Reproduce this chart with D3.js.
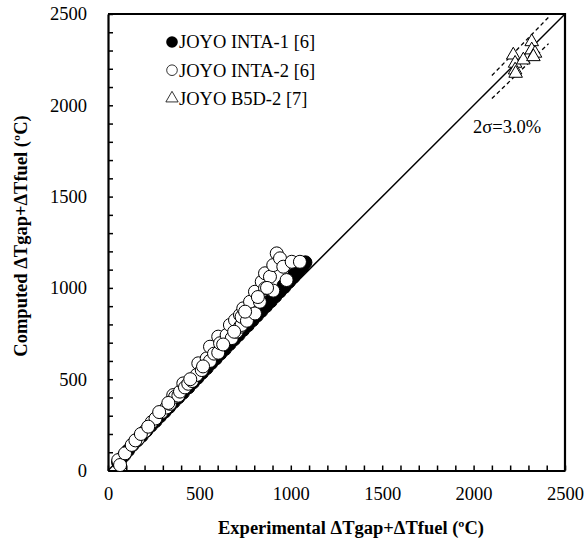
<!DOCTYPE html>
<html>
<head>
<meta charset="utf-8">
<script src="https://cdn.jsdelivr.net/npm/d3@7"></script>
<style>
  body { margin: 0; background: #fff; }
</style>
</head>
<body>
<div class="canvas"></div>
<script>
const serif = "'Liberation Serif', 'Times New Roman', Times, 'DejaVu Serif', serif";
const fontSize = 18.5;

// values: [experimental, computed] in ºC
const inta1 = [
  [55, 45], [70, 62], [90, 85], [110, 110], [135, 140], [160, 165], [185, 190],
  [210, 218], [235, 245], [260, 270], [285, 297], [310, 322], [335, 348], [360, 375],
  [385, 400], [410, 425], [440, 455], [465, 482], [490, 508], [515, 535], [540, 560],
  [565, 588], [590, 613], [615, 640], [640, 665], [665, 692], [690, 718], [715, 743],
  [740, 770], [765, 795], [790, 822], [815, 848], [840, 874], [865, 900], [890, 926],
  [915, 953], [940, 980], [965, 1005], [990, 1033], [1015, 1060], [1040, 1090],
  [1065, 1118], [1080, 1140], [1020, 1075], [960, 1012], [880, 925], [800, 842],
  [720, 760], [640, 678]
];
const inta2 = [
  [56, 57], [66, 30], [93, 94], [130, 140], [166, 175], [202, 215], [239, 265],
  [260, 285], [294, 320], [320, 345], [339, 365], [357, 413], [367, 404], [385, 410],
  [394, 432], [412, 477], [421, 455], [439, 475], [460, 490], [485, 523], [494, 587],
  [513, 550], [540, 614], [558, 600], [558, 678], [580, 640], [603, 645], [603, 733],
  [613, 697], [649, 742], [667, 797], [677, 725], [695, 824], [704, 760], [722, 787],
  [722, 852], [731, 797], [731, 842], [740, 888], [760, 820], [777, 924], [804, 860],
  [804, 979], [831, 924], [841, 1034], [859, 998], [859, 1080], [886, 1061], [904, 985],
  [904, 1125], [923, 1189], [941, 1162], [959, 1116], [977, 1043], [1005, 1143],
  [1050, 1143], [150, 165], [180, 200], [220, 240], [280, 320], [330, 370],
  [450, 500], [520, 570], [630, 690], [690, 760], [750, 870], [870, 1000], [820, 950]
];
const b5d2 = [
  [2217, 2275], [2227, 2230], [2227, 2193], [2230, 2175], [2272, 2248],
  [2318, 2348], [2318, 2303], [2336, 2285], [2327, 2266]
];

const legendLabels = ["JOYO INTA-1 [6]", "JOYO INTA-2 [6]", "JOYO B5D-2 [7]"];
const axisMax = 2500;
const sigmaBand = [0.97, 1.03]; // 2σ = 3.0%
const bandRange = [2100, 2410];
const sigmaLabel = "2σ=3.0%";

// leaves room for axes and titles
const margin = { top: 14, right: 20, bottom: 71.5, left: 108 };
const graphWidth = 585 - margin.left - margin.right;
const graphHeight = 542 - margin.top - margin.bottom;

const svg = d3
  .select(".canvas")
  .append("svg")
  .attr("width", 585)
  .attr("height", 542)
  .attr("font-family", serif);

const graph = svg
  .append("g")
  .attr("transform", `translate(${margin.left}, ${margin.top})`);

// scales
const x = d3.scaleLinear().domain([0, axisMax]).range([0, graphWidth]);
const y = d3.scaleLinear().domain([0, axisMax]).range([graphHeight, 0]);

const minorTicks = d3.range(0, axisMax + 1, 100);
const label = d => (d % 500 === 0 ? d : "");

// axes, ticks point inward
const xAxis = d3.axisBottom(x).tickValues(minorTicks).tickFormat(label)
  .tickSizeInner(-5).tickSizeOuter(0).tickPadding(16);
const yAxis = d3.axisLeft(y).tickValues(minorTicks).tickFormat(label)
  .tickSizeInner(-5).tickSizeOuter(0).tickPadding(21);

const xAxisGroup = graph.append("g")
  .attr("transform", `translate(0, ${graphHeight})`)
  .call(xAxis);
const yAxisGroup = graph.append("g").call(yAxis);

[xAxisGroup, yAxisGroup].forEach(g => {
  g.attr("font-family", serif).attr("font-size", fontSize);
  g.select(".domain").attr("stroke", "#000").attr("stroke-width", 2.2);
  g.selectAll(".tick line").attr("stroke", "#000").attr("stroke-width", 1.5);
  g.selectAll(".tick text").attr("fill", "#000");
});

// top and right frame
graph.append("path")
  .attr("d", `M0,0H${graphWidth}V${graphHeight}`)
  .attr("fill", "none")
  .attr("stroke", "#000")
  .attr("stroke-width", 2.2);

// 1:1 line
const line = d3.line().x(d => x(d[0])).y(d => y(d[1]));
graph.append("path")
  .datum([[0, 0], [axisMax, axisMax]])
  .attr("d", line)
  .attr("fill", "none")
  .attr("stroke", "#000")
  .attr("stroke-width", 1.5);

// ±3% dashed lines
sigmaBand.forEach(k => {
  graph.append("path")
    .datum(bandRange.map(v => [v, v * k]))
    .attr("d", line)
    .attr("fill", "none")
    .attr("stroke", "#000")
    .attr("stroke-width", 1.3)
    .attr("stroke-dasharray", "4,3");
});

graph.append("text")
  .attr("x", x(1997))
  .attr("y", y(1848))
  .attr("font-size", fontSize)
  .text(sigmaLabel);

// points
graph.selectAll("circle.inta1")
  .data(inta1)
  .enter()
  .append("circle")
  .attr("class", "inta1")
  .attr("cx", d => x(d[0]))
  .attr("cy", d => y(d[1]))
  .attr("r", 6.5)
  .attr("fill", "#000")
  .attr("stroke", "#000");

graph.selectAll("circle.inta2")
  .data(inta2)
  .enter()
  .append("circle")
  .attr("class", "inta2")
  .attr("cx", d => x(d[0]))
  .attr("cy", d => y(d[1]))
  .attr("r", 6.5)
  .attr("fill", "#fff")
  .attr("stroke", "#000")
  .attr("stroke-width", 1);

const tri = d3.symbol().type(d3.symbolTriangle).size(80);
graph.selectAll("path.b5d2")
  .data(b5d2)
  .enter()
  .append("path")
  .attr("class", "b5d2")
  .attr("d", tri)
  .attr("transform", d => `translate(${x(d[0])}, ${y(d[1])})`)
  .attr("fill", "#fff")
  .attr("stroke", "#000")
  .attr("stroke-width", 1);

// legend
const legend = svg.append("g").attr("transform", "translate(172, 42)");
legendLabels.forEach((name, i) => {
  const row = legend.append("g").attr("transform", `translate(0, ${i * 28.2})`);
  if (i === 0) {
    row.append("circle").attr("r", 5.8).attr("fill", "#000");
  } else if (i === 1) {
    row.append("circle").attr("r", 5.3).attr("fill", "#fff")
      .attr("stroke", "#000").attr("stroke-width", 0.8);
  } else {
    row.append("path").attr("d", d3.symbol().type(d3.symbolTriangle).size(65))
      .attr("fill", "#fff").attr("stroke", "#000").attr("stroke-width", 0.8);
  }
  row.append("text")
    .attr("x", 7)
    .attr("dy", "0.35em")
    .attr("font-size", fontSize)
    .text(name);
});

// axis titles
svg.append("text")
  .attr("x", 351)
  .attr("y", 534)
  .attr("text-anchor", "middle")
  .attr("font-size", fontSize)
  .attr("font-weight", "bold")
  .text("Experimental  ΔTgap+ΔTfuel (ºC)");

svg.append("text")
  .attr("transform", "translate(27, 236) rotate(-90)")
  .attr("text-anchor", "middle")
  .attr("font-size", fontSize)
  .attr("font-weight", "bold")
  .text("Computed  ΔTgap+ΔTfuel (ºC)");
</script>
</body>
</html>
